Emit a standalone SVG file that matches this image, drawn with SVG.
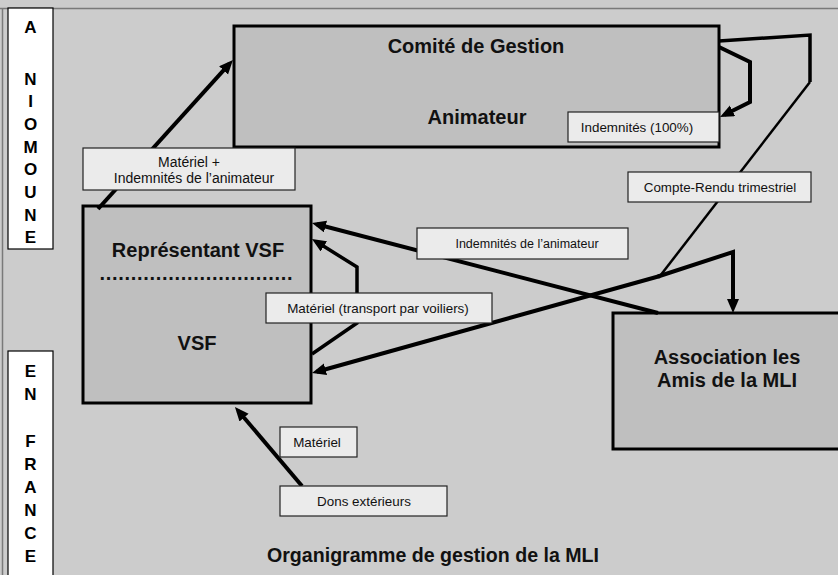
<svg xmlns="http://www.w3.org/2000/svg" width="838" height="575" viewBox="0 0 838 575">
<style>
  .bg{fill:#cccccc}
  .frame{stroke:#7a7a7a;stroke-width:1.5;fill:none}
  .side{fill:#ffffff;stroke:#000;stroke-width:1.2}
  .sideT{font-family:"Liberation Sans",Arial,sans-serif;font-weight:bold;font-size:17px;text-anchor:middle;fill:#000}
  .node{fill:#bfbfbf;stroke:#000;stroke-width:3}
  .nodeT{font-family:"Liberation Sans",Arial,sans-serif;font-weight:bold;font-size:20px;text-anchor:middle;fill:#111}
  .lbl{fill:#ebebeb;stroke:#222;stroke-width:1.2}
  .lblT{font-family:"Liberation Sans",Arial,sans-serif;font-size:13.4px;text-anchor:middle;fill:#111}
  .c{fill:none;stroke:#000;stroke-width:4;stroke-linejoin:miter}
  .ct{fill:none;stroke:#000;stroke-width:2.5}
</style>
<defs>
  <marker id="ah" markerUnits="userSpaceOnUse" markerWidth="16" markerHeight="14" refX="9" refY="6" orient="auto">
    <path d="M0,0 L14,6 L0,12 z" fill="#000"/>
  </marker>
</defs>
<rect class="bg" x="0" y="0" width="838" height="575"/>
<path class="frame" d="M0,8.5 H838 M2.5,8.5 V575"/>

<g id="side-niomoune">
  <rect class="side" x="8" y="8" width="45" height="241"/>
  <text class="sideT" x="30.5" y="33">A</text>
  <text class="sideT" x="30.5" y="85">N</text>
  <text class="sideT" x="30.5" y="107">I</text>
  <text class="sideT" x="30.5" y="130">O</text>
  <text class="sideT" x="30.5" y="153">M</text>
  <text class="sideT" x="30.5" y="175">O</text>
  <text class="sideT" x="30.5" y="198">U</text>
  <text class="sideT" x="30.5" y="221">N</text>
  <text class="sideT" x="30.5" y="243">E</text>
</g>
<g id="side-france">
  <rect class="side" x="8" y="351" width="45" height="230"/>
  <text class="sideT" x="30.5" y="377">E</text>
  <text class="sideT" x="30.5" y="400">N</text>
  <text class="sideT" x="30.5" y="447">F</text>
  <text class="sideT" x="30.5" y="470">R</text>
  <text class="sideT" x="30.5" y="493">A</text>
  <text class="sideT" x="30.5" y="516">N</text>
  <text class="sideT" x="30.5" y="539">C</text>
  <text class="sideT" x="30.5" y="562">E</text>
</g>

<g id="comite">
  <rect class="node" x="234" y="26" width="485" height="121"/>
  <text class="nodeT" x="476" y="53">Comité de Gestion</text>
  <text class="nodeT" x="477" y="124">Animateur</text>
</g>
<g id="vsf">
  <rect class="node" x="83" y="206" width="228" height="197"/>
  <text class="nodeT" x="198" y="257">Représentant VSF</text>
  <text class="nodeT" x="196" y="280" textLength="193" lengthAdjust="spacing">...............................</text>
  <text class="nodeT" x="197" y="350">VSF</text>
</g>
<g id="association">
  <rect class="node" x="613" y="313" width="240" height="136"/>
  <text class="nodeT" x="727" y="364">Association les</text>
  <text class="nodeT" x="727" y="387">Amis de la MLI</text>
</g>

<g id="connectors">
  <path class="c" d="M98,209 L229.6,63.7" marker-end="url(#ah)"/>
  <path class="c" d="M719,47 L750,62 L750,102 L724.5,114.8" marker-end="url(#ah)"/>
  <path class="c" style="stroke-width:3.5" d="M719,41 L810,35 L810,82"/>
  <path class="ct" d="M810,82 L660,276"/>
  <path class="c" d="M658,313 L316.8,224.3" marker-end="url(#ah)"/>
  <path class="c" d="M660,276 L316.8,371.7" marker-end="url(#ah)"/>
  <path class="c" d="M658,276.5 L733,252 L733,308" marker-end="url(#ah)"/>
  <path class="c" style="stroke-width:3.5" d="M312,354 L357,323 L357,267 L316.2,241.6" marker-end="url(#ah)"/>
  <path class="c" d="M302,486 L238.2,410.8" marker-end="url(#ah)"/>
</g>

<g id="labels">
  <g id="lbl-materiel-indemnites">
    <rect class="lbl" x="83" y="148" width="212" height="42"/>
    <text class="lblT" x="189" y="167" style="font-size:14px">Matériel +</text>
    <text class="lblT" x="194" y="183" style="font-size:14px">Indemnités de l’animateur</text>
  </g>
  <g id="lbl-indemnites-100">
    <rect class="lbl" x="568" y="112" width="151" height="30"/>
    <text class="lblT" x="637" y="132">Indemnités (100%)</text>
  </g>
  <g id="lbl-compte-rendu">
    <rect class="lbl" x="628" y="172" width="183" height="30"/>
    <text class="lblT" x="720" y="192">Compte-Rendu trimestriel</text>
  </g>
  <g id="lbl-indemnites-animateur">
    <rect class="lbl" x="417" y="228" width="211" height="31"/>
    <text class="lblT" x="527" y="248" style="font-size:12.5px">Indemnités de l’animateur</text>
  </g>
  <g id="lbl-materiel-voiliers">
    <rect class="lbl" x="266" y="293" width="226" height="30"/>
    <text class="lblT" x="378" y="313">Matériel (transport par voiliers)</text>
  </g>
  <g id="lbl-materiel">
    <rect class="lbl" x="280" y="427" width="77" height="30"/>
    <text class="lblT" x="317" y="447">Matériel</text>
  </g>
  <g id="lbl-dons">
    <rect class="lbl" x="280" y="486" width="167" height="30"/>
    <text class="lblT" x="364" y="506">Dons extérieurs</text>
  </g>
</g>

<text x="433" y="562" textLength="332" lengthAdjust="spacingAndGlyphs" style="font-family:'Liberation Sans',Arial,sans-serif;font-weight:bold;font-size:21px;text-anchor:middle;fill:#111">Organigramme de gestion de la MLI</text>
</svg>
